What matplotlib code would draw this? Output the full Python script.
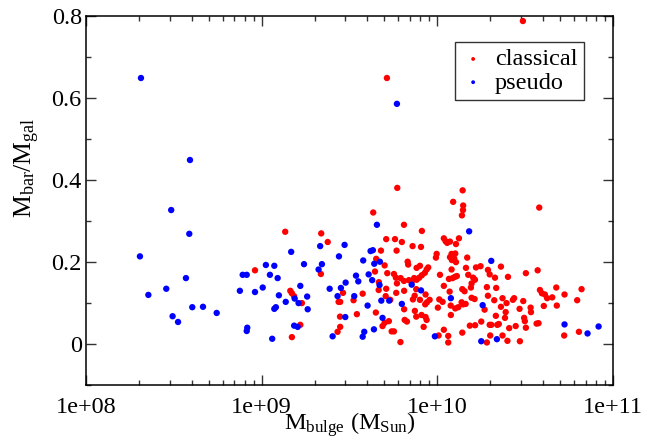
import numpy as np
import matplotlib
matplotlib.use("Agg")
import matplotlib.pyplot as plt
from matplotlib.ticker import FixedLocator, MultipleLocator, FuncFormatter, LogLocator, NullFormatter

# log10 of bulge mass (M_Sun) and bar-to-galaxy mass ratio
classical_logm = [
    10.487, 9.713, 10.580, 8.962, 9.772, 9.635, 9.810, 9.134, 9.339, 9.912,
    9.376, 9.709, 9.759, 9.798, 9.859, 9.907, 9.679, 9.768, 9.996, 9.992,
    9.652, 9.700, 9.831, 9.834, 9.882, 9.901, 9.939, 9.948, 9.929, 9.645,
    9.715, 9.753, 9.337, 9.163, 9.172, 9.184, 9.229, 9.220, 9.172, 9.463,
    9.438, 9.447, 9.523, 9.575, 9.667, 9.666, 9.709, 9.706, 9.732, 9.764,
    9.770, 9.811, 9.766, 9.446, 9.542, 9.650, 9.447, 9.432, 9.688, 9.700,
    9.724, 9.740, 9.753, 9.790, 9.814, 9.827, 9.811, 9.872, 9.880, 9.910,
    9.933, 9.922, 9.939, 9.861, 9.871, 9.901, 9.931, 9.941, 9.956, 9.880,
    9.933, 9.791, 9.810, 9.838, 9.854, 9.868, 9.882, 9.897, 9.912, 10.011,
    10.003, 10.007, 10.144, 10.090, 10.147, 10.146, 10.140, 10.037, 10.047, 10.072,
    10.056, 10.123, 10.106, 10.081, 10.102, 10.072, 10.083, 10.106, 10.096, 10.170,
    10.220, 10.246, 10.163, 10.081, 10.288, 10.362, 10.504, 10.571, 10.298, 10.328,
    10.402, 10.015, 10.066, 10.087, 10.100, 10.111, 10.037, 10.070, 10.176, 10.204,
    10.214, 10.195, 10.191, 10.142, 10.155, 10.282, 10.335, 10.030, 10.076, 10.077,
    10.138, 10.147, 10.161, 10.102, 10.119, 10.195, 10.212, 10.288, 10.324, 10.269,
    10.371, 10.394, 10.362, 10.389, 10.385, 10.333, 10.430, 10.437, 10.489, 10.468,
    10.531, 10.533, 10.494, 10.498, 10.504, 10.446, 10.409, 10.565, 10.576, 10.341,
    10.350, 10.298, 10.307, 10.250, 10.185, 10.215, 10.037, 10.062, 10.062, 10.142,
    10.301, 10.371, 10.399, 10.470, 10.282, 10.606, 10.677, 10.584, 10.595, 10.612,
    10.625, 10.654, 10.724, 10.680, 10.796, 10.821, 10.722, 10.806,
]
classical_ratio = [
    0.787, 0.648, 0.332, 0.179, 0.380, 0.320, 0.290, 0.273, 0.269, 0.275,
    0.248, 0.255, 0.255, 0.248, 0.238, 0.236, 0.227, 0.227, 0.219, 0.210,
    0.207, 0.191, 0.200, 0.193, 0.185, 0.190, 0.181, 0.186, 0.173, 0.176,
    0.172, 0.170, 0.170, 0.129, 0.123, 0.116, 0.099, 0.046, 0.016, 0.124,
    0.102, 0.102, 0.106, 0.122, 0.150, 0.131, 0.134, 0.116, 0.107, 0.161,
    0.147, 0.129, 0.124, 0.066, 0.072, 0.076, 0.041, 0.029, 0.043, 0.051,
    0.055, 0.030, 0.030, 0.004, 0.058, 0.054, 0.084, 0.080, 0.066, 0.070,
    0.065, 0.041, 0.058, 0.108, 0.117, 0.107, 0.096, 0.101, 0.107, 0.133,
    0.120, 0.160, 0.153, 0.155, 0.151, 0.160, 0.156, 0.161, 0.167, 0.108,
    0.088, 0.020, 0.374, 0.346, 0.337, 0.326, 0.313, 0.257, 0.250, 0.249,
    0.246, 0.257, 0.243, 0.219, 0.220, 0.211, 0.204, 0.199, 0.208, 0.210,
    0.186, 0.189, 0.185, 0.181, 0.180, 0.188, 0.172, 0.179, 0.169, 0.161,
    0.163, 0.168, 0.158, 0.160, 0.163, 0.165, 0.141, 0.127, 0.168, 0.161,
    0.156, 0.147, 0.137, 0.133, 0.128, 0.138, 0.136, 0.102, 0.093, 0.070,
    0.101, 0.096, 0.097, 0.086, 0.089, 0.112, 0.109, 0.117, 0.106, 0.083,
    0.111, 0.099, 0.090, 0.077, 0.063, 0.068, 0.107, 0.111, 0.104, 0.085,
    0.088, 0.077, 0.063, 0.055, 0.039, 0.043, 0.038, 0.049, 0.050, 0.046,
    0.048, 0.046, 0.046, 0.054, 0.044, 0.045, 0.034, 0.019, 0.003, 0.027,
    0.020, 0.020, 0.007, 0.006, 0.003, 0.092, 0.137, 0.131, 0.123, 0.120,
    0.111, 0.113, 0.120, 0.093, 0.106, 0.133, 0.020, 0.029,
]

pseudo_logm = [
    8.313, 8.592, 8.485, 8.588, 8.307, 9.024, 9.072, 8.892, 8.915, 9.047,
    9.091, 8.569, 8.457, 8.355, 8.876, 8.962, 9.006, 9.098, 8.605, 8.666,
    8.493, 8.524, 8.744, 9.072, 9.081, 8.918, 8.915, 9.060, 9.656, 9.168,
    9.333, 9.472, 9.440, 9.241, 9.343, 9.324, 9.578, 9.620, 9.633, 9.641,
    9.673, 9.537, 9.609, 9.220, 9.137, 9.188, 9.210, 9.259, 9.262, 9.185,
    9.205, 9.387, 9.451, 9.478, 9.432, 9.527, 9.603, 9.550, 9.629, 9.671,
    9.681, 9.726, 9.476, 9.688, 9.404, 9.584, 9.575, 9.639, 9.798, 9.854,
    9.907, 9.986, 10.181, 10.307, 10.077, 10.258, 10.339, 10.250, 10.724, 10.855,
    10.918, 9.770,
]
pseudo_ratio = [
    0.648, 0.448, 0.326, 0.268, 0.213, 0.192, 0.190, 0.168, 0.168, 0.168,
    0.160, 0.160, 0.134, 0.119, 0.129, 0.126, 0.137, 0.118, 0.089, 0.090,
    0.067, 0.053, 0.075, 0.085, 0.089, 0.039, 0.031, 0.012, 0.290, 0.224,
    0.238, 0.241, 0.213, 0.194, 0.194, 0.181, 0.203, 0.226, 0.228, 0.195,
    0.200, 0.166, 0.169, 0.141, 0.102, 0.110, 0.099, 0.115, 0.084, 0.044,
    0.041, 0.134, 0.136, 0.149, 0.116, 0.116, 0.093, 0.152, 0.155, 0.143,
    0.105, 0.105, 0.065, 0.063, 0.018, 0.029, 0.017, 0.035, 0.097, 0.144,
    0.130, 0.018, 0.274, 0.202, 0.111, 0.094, 0.011, 0.006, 0.047, 0.025,
    0.042, 0.585,
]

x_ticks = [1e8, 1e9, 1e10, 1e11]
y_ticks = [0.0, 0.2, 0.4, 0.6, 0.8]

plt.rcParams["font.family"] = ["Liberation Serif", "DejaVu Serif"]
plt.rcParams["mathtext.fontset"] = "custom"
plt.rcParams["mathtext.rm"] = "Liberation Serif"
plt.rcParams["mathtext.it"] = "Liberation Serif:italic"
plt.rcParams["font.size"] = 17.5

fig = plt.figure(figsize=(6.48, 4.43), dpi=100)
ax = fig.add_axes([0.1327, 0.1316, 0.8133, 0.8330])

ax.scatter(10 ** np.array(classical_logm), classical_ratio, s=21, c="#ff0000",
           edgecolors="none", label="classical", zorder=3)
ax.scatter(10 ** np.array(pseudo_logm), pseudo_ratio, s=21, c="#0000ff",
           edgecolors="none", label="pseudo", zorder=3)

ax.set_xscale("log")
ax.set_xlim(1e8, 1e11)
ax.set_ylim(-0.1, 0.8)

ax.xaxis.set_major_locator(FixedLocator(x_ticks))
ax.xaxis.set_major_formatter(FuncFormatter(lambda v, p: f"{v:.0e}"))
ax.xaxis.set_minor_locator(LogLocator(base=10, subs=np.arange(2, 10)))
ax.xaxis.set_minor_formatter(NullFormatter())
ax.yaxis.set_major_locator(FixedLocator(y_ticks))
ax.yaxis.set_major_formatter(FuncFormatter(lambda v, p: f"{v:g}"))
ax.yaxis.set_minor_locator(MultipleLocator(0.1))

ax.tick_params(which="both", direction="in", top=True, right=True, width=1.0, color="#333333")
ax.tick_params(which="major", length=7.5)
ax.tick_params(which="minor", length=3.8)
ax.tick_params(axis="x", which="major", pad=9)
ax.tick_params(axis="y", which="major", pad=3)
for sp in ax.spines.values():
    sp.set_linewidth(1.1)

ax.set_xlabel(r"$\mathrm{M}_{\mathrm{bulge}}$ ($\mathrm{M}_{\mathrm{Sun}}$)", labelpad=-6)
ax.set_ylabel(r"$\mathrm{M}_{\mathrm{bar}}/\mathrm{M}_{\mathrm{gal}}$", fontsize=18.5)
ax.yaxis.set_label_coords(-0.084, 0.587)

leg = ax.legend(loc="upper left", bbox_to_anchor=(0.700, 0.928), borderaxespad=0,
                frameon=True, fancybox=False, markerscale=0.6, handletextpad=0.4,
                handlelength=1.0, labelspacing=0.05, borderpad=0.25, fontsize=17.5)
leg.get_frame().set_edgecolor("black")
leg.get_frame().set_linewidth(1.0)

fig.savefig("out.png", dpi=100)
